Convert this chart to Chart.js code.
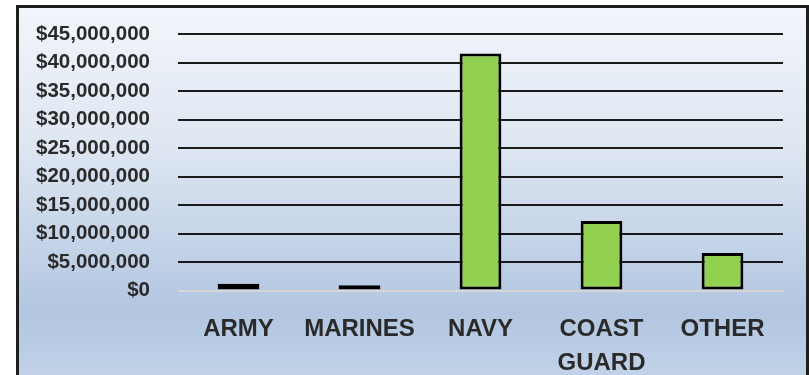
<!DOCTYPE html>
<html>
<head>
<meta charset="utf-8">
<script src="https://cdn.jsdelivr.net/npm/chart.js@4/dist/chart.umd.min.js"></script>
<style>
  html, body { margin: 0; padding: 0; background: #fff; overflow: hidden; }
  #frame {
    position: absolute;
    left: 16px;
    top: 5px;
    width: 787px;
    height: 380px;
    border: 3px solid #1e1e1e;
    border-bottom: none;
    background: linear-gradient(#f2f5fb 0%, #dfe7f2 35%, #b2c6e1 80%, #c4d4e9 100%);
  }
  #chart { position: absolute; left: 0; top: 0; }
</style>
</head>
<body>
<div id="frame">
  <canvas id="chart" width="787" height="367"></canvas>
</div>
<script>
document.addEventListener('DOMContentLoaded', function () {
    var branches = ['ARMY', 'MARINES', 'NAVY', ['COAST', 'GUARD'], 'OTHER'];
    var spending = [1200000, 900000, 41600000, 12200000, 6600000];
    var yTickLabels = ['$0', '$5,000,000', '$10,000,000', '$15,000,000', '$20,000,000',
                       '$25,000,000', '$30,000,000', '$35,000,000', '$40,000,000', '$45,000,000'];

    var textColor = '#2a2a2a';
    var font = 'Liberation Sans, Arial, sans-serif';

    var ctx = document.getElementById('chart').getContext('2d');
    new Chart(ctx, {
        type: 'bar',
        data: {
            labels: branches,
            datasets: [{
                data: spending,
                backgroundColor: '#92d050',
                borderColor: '#000',
                borderWidth: 3,
                borderSkipped: false,
                barPercentage: 0.345,
                categoryPercentage: 1
            }]
        },
        options: {
            responsive: false,
            animation: false,
            layout: { padding: { left: 0, top: 26, right: 23, bottom: 0 } },
            plugins: { legend: { display: false }, tooltip: { enabled: false } },
            scales: {
                x: {
                    grid: { display: false },
                    border: { display: false },
                    ticks: {
                        color: textColor,
                        font: { family: font, size: 24, weight: 'bold', lineHeight: 1.42 },
                        padding: 14,
                        maxRotation: 0,
                        autoSkip: false
                    },
                    afterFit: function (scale) { scale.height = 84.5; }
                },
                y: {
                    min: 0,
                    max: 45000000,
                    border: { display: false },
                    grid: {
                        drawTicks: false,
                        lineWidth: 2,
                        color: function (c) {
                            return c.tick && c.tick.value === 0 ? '#d6d6d6' : '#1a1a1a';
                        }
                    },
                    ticks: {
                        stepSize: 5000000,
                        padding: 28,
                        autoSkip: false,
                        color: textColor,
                        font: { family: font, size: 20.5, weight: 'bold' },
                        callback: function (value, index) { return yTickLabels[index]; }
                    },
                    afterFit: function (scale) {
                        scale.width = 159;
                        // tick padding would otherwise push the plot down
                        scale.paddingTop = 12;
                        scale.paddingBottom = 12;
                    }
                }
            }
        }
    });
});
</script>
</body>
</html>
